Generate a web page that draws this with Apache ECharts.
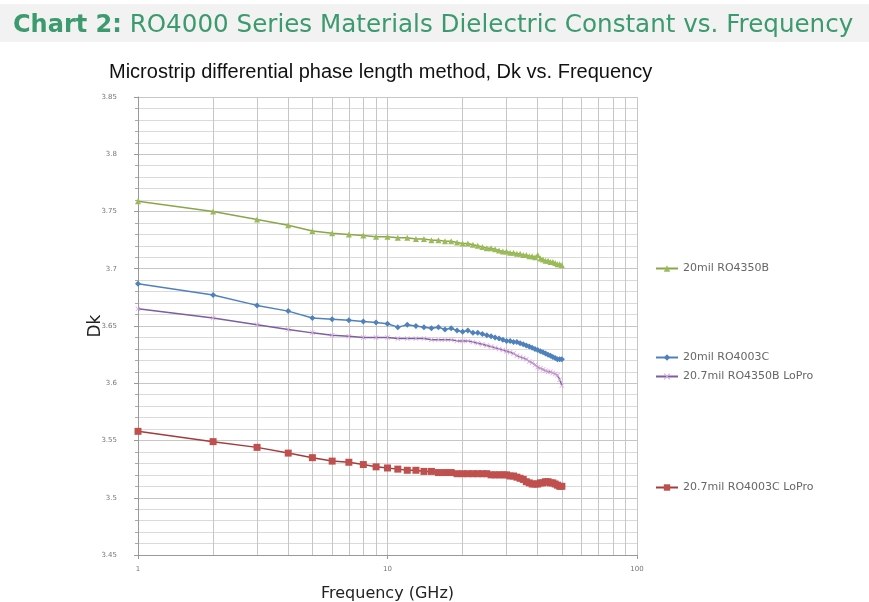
<!DOCTYPE html>
<html>
<head>
<meta charset="utf-8">
<script src="https://cdn.jsdelivr.net/npm/echarts@6/dist/echarts.min.js"></script>
<style>
html,body{margin:0;padding:0;background:#fff;}
#main{width:869px;height:602px;}
</style>
</head>
<body>
<div id="main"></div>
<script>
// ---- data ----
const freqs = [1,2,3,4,5,6,7,8,9,10,11,12,13,14,15,16,17,18,19,20,21,22,23,24,25,26,27,28,29,30,31,32,33,34,35,36,37,38,39,40,41,42,43,44,45,46,47,48,49,50];
const ro4350b = [3.759,3.750,3.743,3.738,3.733,3.731,3.730,3.729,3.728,3.728,
  3.727,3.727,3.726,3.726,3.725,3.725,3.724,3.724,3.723,3.722,
  3.722,3.721,3.720,3.719,3.718,3.718,3.717,3.716,3.715,3.715,
  3.714,3.714,3.713,3.713,3.712,3.712,3.711,3.711,3.710,3.712,
  3.709,3.708,3.707,3.707,3.706,3.706,3.705,3.704,3.704,3.703];
const ro4003c = [3.687,3.677,3.668,3.663,3.657,3.656,3.655,3.654,3.653,3.652,
  3.649,3.651,3.650,3.649,3.648,3.649,3.647,3.648,3.646,3.645,
  3.646,3.644,3.644,3.643,3.642,3.641,3.640,3.639,3.638,3.637,
  3.637,3.636,3.636,3.635,3.634,3.633,3.632,3.631,3.630,3.629,
  3.628,3.627,3.626,3.625,3.624,3.623,3.622,3.621,3.621,3.621];
const ro4350bLoPro = [3.665,3.657,3.651,3.647,3.644,3.642,3.641,3.640,3.640,3.640,
  3.639,3.639,3.639,3.639,3.638,3.638,3.638,3.638,3.637,3.637,
  3.637,3.636,3.635,3.634,3.633,3.632,3.631,3.630,3.629,3.628,
  3.627,3.626,3.624,3.623,3.622,3.621,3.619,3.618,3.616,3.614,
  3.613,3.612,3.611,3.610,3.610,3.609,3.608,3.607,3.603,3.598];
const ro4003cLoPro = [3.558,3.549,3.544,3.539,3.535,3.532,3.531,3.529,3.527,3.526,
  3.525,3.524,3.524,3.523,3.523,3.522,3.522,3.522,3.521,3.521,
  3.521,3.521,3.521,3.521,3.521,3.520,3.520,3.520,3.520,3.520,
  3.519,3.519,3.518,3.517,3.516,3.514,3.513,3.512,3.512,3.512,
  3.513,3.513,3.514,3.514,3.513,3.513,3.512,3.511,3.510,3.510];
const seriesNames = ['20mil RO4350B','20mil RO4003C','20.7mil RO4350B LoPro','20.7mil RO4003C LoPro'];
const minorFreqGrid = [2,3,4,5,6,7,8,9,20,30,40,50,60,70,80,90];
const yMin = 3.45, yMax = 3.85, yInterval = 0.05;

function pairs(vals){ return freqs.map((f,i)=>[f, vals[i]]); }

const chart = echarts.init(document.getElementById('main'));
const font = 'DejaVu Sans';
const crossPath = 'path://M0,1L1,0L5,4L9,0L10,1L6,5L10,9L9,10L5,6L1,10L0,9L4,5Z';

function legendAt(name, top){
  return {
    data:[name], left:655, top:top, padding:0, itemWidth:22, itemHeight:8, itemGap:0,
    textStyle:{fontFamily:font, fontSize:11, color:'#666'}
  };
}

chart.setOption({
  animation:false,
  backgroundColor:'#fff',
  graphic:[{type:'rect', shape:{x:0,y:4,width:869,height:38}, style:{fill:'#f1f2f1'}, z:-1}],
  title:[
    {text:'{b|Chart 2:} RO4000 Series Materials Dielectric Constant vs. Frequency', left:8, top:8,
     textStyle:{fontFamily:font, fontSize:24.6, fontWeight:'normal', color:'#3c9a6f',
       rich:{b:{fontFamily:font, fontSize:24, fontWeight:'bold', color:'#3c9a6f'}}}},
    {text:'Microstrip differential phase length method, Dk vs. Frequency', left:104, top:57,
     textStyle:{fontFamily:'Liberation Sans', fontSize:20, fontWeight:'normal', color:'#111'}}
  ],
  legend:[
    legendAt(seriesNames[0], 263),
    legendAt(seriesNames[1], 352),
    legendAt(seriesNames[2], 371),
    legendAt(seriesNames[3], 482)
  ],
  grid:{left:138, right:232, top:97, bottom:47, containLabel:false, outerBoundsMode:'none'},
  xAxis:{
    type:'log', logBase:10, min:1, max:100,
    name:'Frequency (GHz)', nameLocation:'middle', nameGap:31,
    nameTextStyle:{fontFamily:font, fontSize:16, color:'#222'},
    axisLine:{show:true, lineStyle:{color:'#999'}},
    axisTick:{show:true, length:4, lineStyle:{color:'#999'}},
    axisLabel:{fontFamily:font, fontSize:7, color:'#777', margin:11},
    splitLine:{show:true, lineStyle:{color:'#c6c6c6', width:1}}
  },
  yAxis:{
    type:'value', min:yMin, max:yMax, interval:yInterval,
    name:'Dk', nameLocation:'middle', nameGap:34, nameMoveOverlap:false,
    nameTextStyle:{fontFamily:font, fontSize:17, color:'#222'},
    axisLine:{show:true, lineStyle:{color:'#999'}},
    axisTick:{show:true, length:4, inside:false, lineStyle:{color:'#999'}},
    minorTick:{show:true, splitNumber:5, length:3, lineStyle:{color:'#aaa'}},
    axisLabel:{fontFamily:font, fontSize:7, color:'#777', margin:21,
      formatter:v=>String(Math.round(v*100)/100)},
    splitLine:{show:true, lineStyle:{color:'#c6c6c6', width:1}},
    minorSplitLine:{show:true, lineStyle:{color:'#dadada', width:1}}
  },
  series:[
    {name:seriesNames[0], type:'line', data:pairs(ro4350b), symbol:'triangle', symbolSize:6,
     color:'#9bbb59', lineStyle:{width:1.5, color:'#8aa64a'}, itemStyle:{color:'#9bbb59'}, z:3,
     markLine:{silent:true, symbol:'none', label:{show:false},
       lineStyle:{color:'#c6c6c6', width:1, type:'solid'},
       data:minorFreqGrid.map(f=>({xAxis:f})), z:0}},
    {name:seriesNames[1], type:'line', data:pairs(ro4003c), symbol:'diamond', symbolSize:6,
     color:'#4f81bd', lineStyle:{width:1.5, color:'#4f81bd'}, itemStyle:{color:'#4f81bd'}, z:3},
    {name:seriesNames[2], type:'line', data:pairs(ro4350bLoPro), symbol:crossPath, symbolSize:5,
     color:'#7b5fa0', lineStyle:{width:1.5, color:'#7b5fa0'}, itemStyle:{color:'#d7a6dc'}, z:3},
    {name:seriesNames[3], type:'line', data:pairs(ro4003cLoPro), symbol:'rect', symbolSize:7,
     color:'#c0504d', lineStyle:{width:1.5, color:'#a33c3a'}, itemStyle:{color:'#c0504d'}, z:3}
  ]
});
</script>
</body>
</html>
